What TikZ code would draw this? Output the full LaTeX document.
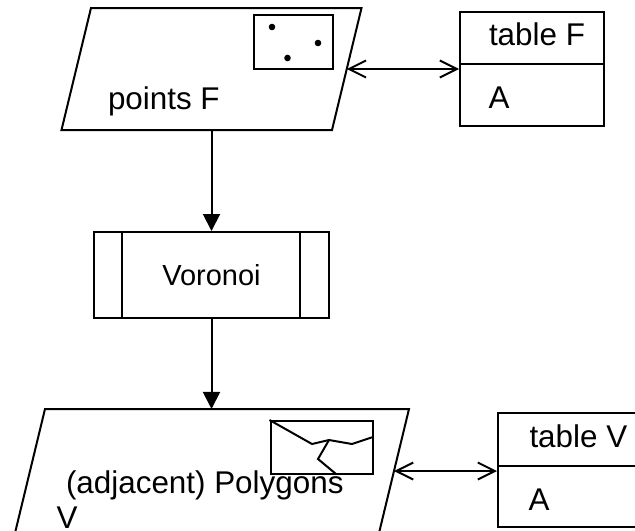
\documentclass[tikz,border=0pt]{standalone}
\usepackage{fontspec}
\setmainfont{Liberation Sans}
\usetikzlibrary{arrows.meta,shapes.geometric}
\tikzset{
    lay/.style={draw, trapezium, trapezium left angle=76.4, trapezium right angle=103.6, inner sep=0pt, outer sep=0pt, text height=61pt, text depth=0pt},
    cell/.style={draw, minimum width=72pt, inner sep=0pt},
    lbl/.style={anchor=base west, inner sep=0pt, font=\fontsize{15.7}{18}\selectfont},
    inset/.style={draw, inner sep=0pt},
    dot/.style={circle, fill, inner sep=0pt, minimum size=3.3pt},
    flow/.style={-{Triangle[length=8.5pt,width=8.5pt]}},
    link/.style={{Straight Barb[length=8.5pt,width=8.5pt]}-{Straight Barb[length=8.5pt,width=8.5pt]}}
}
\begin{document}
\begin{tikzpicture}[x=0.5pt, y=-0.5pt, line width=1pt]
    \useasboundingbox (0,0) rectangle (635,530);
    \clip (0,0) rectangle (635,530);

    % Points
    \node[lay, text width=120.5pt] (pointsF) at (211.5,69) {};
    \node[inset, minimum width=39.5pt, minimum height=27pt] (mapF) at (293.5,42) {};
    \foreach \name/\x/\y in {a/272/27, b/318/43, c/287.5/58}
        \node[dot] (dot\name) at (\x,\y) {};
    \node[lbl] (labelF) at (107,109) {points F};

    % Table F
    \node[cell, minimum height=26pt] (headF) at (532,38) {};
    \node[cell, minimum height=31pt] (bodyF) at (532,95) {};
    \node[lbl] (titleF) at (488,45) {table F};
    \node[lbl] (fieldF) at (487.5,108.7) {A};

    % Process
    \node[draw, minimum width=117.5pt, minimum height=43pt, inner sep=0pt,
        font=\fontsize{14.5}{17}\selectfont] (voronoi) at (211.5,275) {Voronoi};
    \draw ([xshift=14.5pt]voronoi.north west) -- ([xshift=14.5pt]voronoi.south west);
    \draw ([xshift=-15pt]voronoi.north east) -- ([xshift=-15pt]voronoi.south east);

    % Polygons
    \node[lay, text width=167pt, text height=62pt] (polyV) at (212,471) {};
    \node[inset, minimum width=51.25pt, minimum height=26.5pt] (mapV) at (321.75,447.5) {};
    \draw (mapV.north west) -- (312,444) -- (329,440) -- (352,444) -- (373,437);
    \draw (329,440) -- (318,459) -- (336,474);
    \node[lbl] (labelV) at (65,493) {(adjacent) Polygons};
    \node[lbl] (labelVb) at (55.5,528) {V};

    % Table V
    \node[cell, minimum height=26.5pt] (headV) at (570,439.5) {};
    \node[cell, minimum height=30.5pt] (bodyV) at (570,496.5) {};
    \node[lbl] (titleV) at (528.5,447) {table V};
    \node[lbl] (fieldV) at (527.5,510) {A};

    % Connectors
    \draw[flow] (pointsF.south -| voronoi.north) -- (voronoi.north);
    \draw[flow] (voronoi.south) -- (polyV.north -| voronoi.south);
    \draw[link] (pointsF.east) -- (pointsF.east -| headF.west);
    \draw[link] (polyV.east) -- (polyV.east -| headV.west);
\end{tikzpicture}
\end{document}
